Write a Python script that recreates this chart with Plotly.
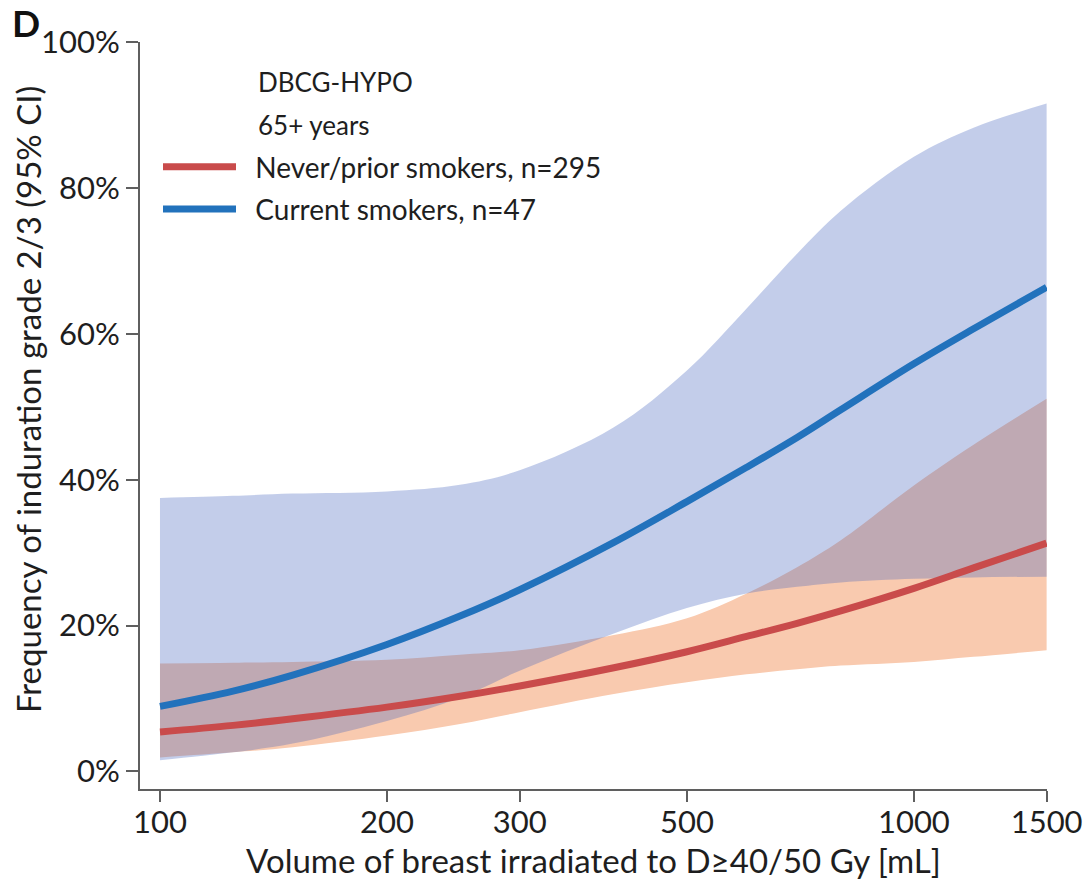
import plotly.graph_objects as go
import math

# Volume of breast irradiated (mL)
volume = [100, 125, 150, 200, 250, 300, 400, 500, 600, 700, 800, 1000, 1200, 1500]

# Never/prior smokers, n=295 (percent)
never_est = [5.4, 6.3, 7.2, 8.8, 10.3, 11.7, 14.2, 16.4, 18.5, 20.3, 22.0, 25.1, 27.9, 31.3]
never_lo = [1.9, 2.6, 3.3, 4.9, 6.5, 8.1, 10.6, 12.2, 13.3, 14.0, 14.5, 15.0, 15.7, 16.6]
never_hi = [14.8, 14.9, 15.0, 15.3, 16.0, 16.6, 18.7, 21.0, 24.4, 28.0, 31.7, 39.2, 44.8, 51.1]

# Current smokers, n=47 (percent)
current_est = [8.9, 11.0, 13.2, 17.4, 21.3, 24.9, 31.4, 37.0, 41.7, 45.8, 49.6, 55.9, 60.7, 66.4]
current_lo = [1.5, 2.6, 3.8, 6.9, 10.1, 13.8, 18.9, 22.4, 24.4, 25.3, 25.9, 26.4, 26.6, 26.7]
current_hi = [37.5, 37.8, 38.1, 38.4, 39.3, 41.3, 47.2, 55.0, 63.5, 71.0, 76.9, 84.3, 88.3, 91.6]

x_ticks = [100, 200, 300, 500, 1000, 1500]
y_ticks = [0, 20, 40, 60, 80, 100]
y_ticktext = ["0%", "20%", "40%", "60%", "80%", "100%"]

FONT = "Lato"
TXT = "#1e1e1e"
AX = "#5f5f5f"
RED = "#c94b4b"
BLUE = "#2272bc"
NB = "\u00a0\u00a0"

fig = go.Figure()

# Never/prior band
fig.add_trace(go.Scatter(x=volume, y=never_lo, mode="lines", line=dict(width=0, shape="spline"),
                         showlegend=False, hoverinfo="skip"))
fig.add_trace(go.Scatter(x=volume, y=never_hi, mode="lines", line=dict(width=0, shape="spline"),
                         fill="tonexty", fillcolor="#f9caaf", showlegend=False, hoverinfo="skip"))
# Current band
fig.add_trace(go.Scatter(x=volume, y=current_lo, mode="lines", line=dict(width=0, shape="spline"),
                         showlegend=False, hoverinfo="skip"))
fig.add_trace(go.Scatter(x=volume, y=current_hi, mode="lines", line=dict(width=0, shape="spline"),
                         fill="tonexty", fillcolor="rgba(67,99,189,0.32)", showlegend=False, hoverinfo="skip"))
# Lines
fig.add_trace(go.Scatter(x=volume, y=never_est, mode="lines", name=NB + "Never/prior smokers, n=295",
                         line=dict(color=RED, width=7, shape="spline"), legendgroup="a"))
fig.add_trace(go.Scatter(x=volume, y=current_est, mode="lines", name=NB + "Current smokers, n=47",
                         line=dict(color=BLUE, width=7, shape="spline"), legendgroup="b"))

W, H = 1089, 888
L, R, T, B = 140, 42, 42, 99
pw, ph = W - L - R, H - T - B

def px_x(p):
    return (p - L) / pw

def px_y(p):
    return (H - B - p) / ph

fig.update_layout(
    width=W, height=H,
    margin=dict(l=L, r=R, t=T, b=B, pad=0, autoexpand=False),
    paper_bgcolor="white", plot_bgcolor="white",
    font=dict(family=FONT, color=TXT, size=28),
    showlegend=True,
    legend=dict(x=px_x(158), y=px_y(142), xanchor="left", yanchor="top",
                bgcolor="rgba(0,0,0,0)", font=dict(size=28, family=FONT, color=TXT),
                itemwidth=73, tracegroupgap=3, traceorder="grouped"),
    xaxis=dict(type="log", range=[2 - 20 / 754.2, math.log10(1500) + 0.0005],
               tickvals=x_ticks, ticktext=[str(v) for v in x_ticks], automargin=False,
               showgrid=False, zeroline=False, showline=True, linecolor=AX, linewidth=2,
               ticks="outside", ticklen=11, tickwidth=2, tickcolor=AX,
               ticklabelstandoff=-6,
               tickfont=dict(size=31, family=FONT, color=TXT),
               title=dict(text="Volume of breast irradiated to D\u226540/50 Gy [mL]",
                          font=dict(size=33, family=FONT, color=TXT), standoff=11)),
    yaxis=dict(range=[-2.43, 100.05], tickvals=y_ticks, ticktext=y_ticktext, automargin=False,
               showgrid=False, zeroline=False, showline=True, linecolor=AX, linewidth=2,
               ticks="outside", ticklen=12, tickwidth=2, tickcolor=AX,
               tickfont=dict(size=31, family=FONT, color=TXT)),
    annotations=[
        dict(text="Frequency of induration grade 2/3 (95% CI)", xref="paper", yref="paper",
             x=px_x(28), y=px_y(400), xanchor="center", yanchor="middle", textangle=-90,
             showarrow=False, font=dict(size=33, family=FONT, color=TXT)),
        dict(text="<b>D</b>", xref="paper", yref="paper", x=px_x(26), y=px_y(23),
             xanchor="center", yanchor="middle", showarrow=False,
             font=dict(size=37, family=FONT, color="#111111")),
        dict(text="DBCG-HYPO", xref="paper", yref="paper", x=px_x(256), y=px_y(82),
             xanchor="left", yanchor="middle", showarrow=False,
             font=dict(size=26, family=FONT, color=TXT)),
        dict(text="65+ years", xref="paper", yref="paper", x=px_x(256), y=px_y(125),
             xanchor="left", yanchor="middle", showarrow=False,
             font=dict(size=26, family=FONT, color=TXT)),
    ],
)

fig.write_html("out.html")
